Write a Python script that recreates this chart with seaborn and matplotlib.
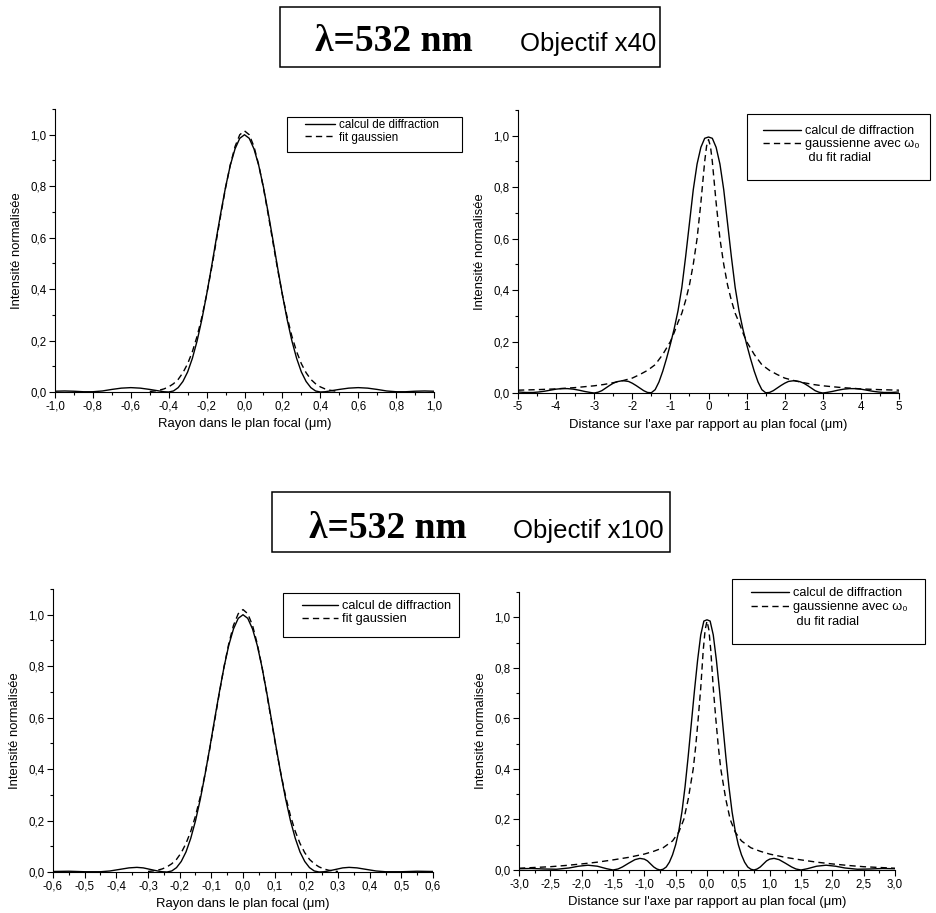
import matplotlib
matplotlib.use('Agg')
import pandas as pd
import seaborn as sns
import matplotlib.pyplot as plt
from matplotlib.lines import Line2D
from matplotlib.patches import Rectangle
from matplotlib.ticker import MultipleLocator, FuncFormatter

# ---- data (intensities normalised) ----
# objective x40, radial profile in the focal plane (um)
r40_x = [-1.0, -0.95, -0.9, -0.85, -0.8, -0.75, -0.7, -0.65, -0.6, -0.55, -0.5, -0.45,
         -0.425, -0.4, -0.375, -0.35, -0.325, -0.3, -0.275, -0.25, -0.225, -0.2, -0.175,
         -0.15, -0.125, -0.1, -0.075, -0.05, -0.025, 0.0, 0.025, 0.05, 0.075, 0.1, 0.125,
         0.15, 0.175, 0.2, 0.225, 0.25, 0.275, 0.3, 0.325, 0.35, 0.375, 0.4, 0.425, 0.45,
         0.5, 0.55, 0.6, 0.65, 0.7, 0.75, 0.8, 0.85, 0.9, 0.95, 1.0]
r40_diff = [0.003, 0.004, 0.003, 0.001, 0.001, 0.004, 0.010, 0.015, 0.017, 0.015, 0.010, 0.004,
            0.001, 0.000, 0.004, 0.017, 0.041, 0.078, 0.131, 0.199, 0.282, 0.378, 0.482,
            0.591, 0.697, 0.796, 0.881, 0.945, 0.986, 1.000, 0.986, 0.945, 0.881, 0.796, 0.697,
            0.591, 0.482, 0.378, 0.282, 0.199, 0.131, 0.078, 0.041, 0.017, 0.004, 0.000, 0.001, 0.004,
            0.010, 0.015, 0.017, 0.015, 0.010, 0.004, 0.001, 0.001, 0.003, 0.004, 0.003]
g40_x = [-0.5, -0.475, -0.45, -0.425, -0.4, -0.375, -0.35, -0.325, -0.3, -0.275, -0.25,
         -0.225, -0.2, -0.175, -0.15, -0.125, -0.1, -0.075, -0.05, -0.025, 0.0, 0.025, 0.05,
         0.075, 0.1, 0.125, 0.15, 0.175, 0.2, 0.225, 0.25, 0.275, 0.3, 0.325, 0.35, 0.375,
         0.4, 0.425, 0.45, 0.475, 0.5]
g40_fit = [0.002, 0.004, 0.007, 0.012, 0.020, 0.032, 0.049, 0.075, 0.110, 0.157, 0.217,
           0.291, 0.378, 0.476, 0.582, 0.690, 0.793, 0.883, 0.954, 1.000, 1.015, 1.000, 0.954,
           0.883, 0.793, 0.690, 0.582, 0.476, 0.378, 0.291, 0.217, 0.157, 0.110, 0.075, 0.049, 0.032,
           0.020, 0.012, 0.007, 0.004, 0.002]

# objective x40, along the optical axis (um)
z40_x = [-5.0, -4.8, -4.6, -4.45, -4.3, -4.15, -4.0, -3.85, -3.7, -3.55, -3.4, -3.25, -3.1,
         -3.0, -2.9, -2.8, -2.7, -2.6, -2.5, -2.4, -2.25, -2.1, -2.0, -1.9, -1.8, -1.7, -1.6,
         -1.5, -1.4, -1.3, -1.2, -1.1, -1.0, -0.9, -0.8, -0.7, -0.6, -0.5, -0.4, -0.3, -0.2,
         -0.1, 0.0, 0.1, 0.2, 0.3, 0.4, 0.5, 0.6, 0.7, 0.8, 0.9, 1.0, 1.1, 1.2, 1.3, 1.4, 1.5,
         1.6, 1.7, 1.8, 1.9, 2.0, 2.1, 2.25, 2.4, 2.5, 2.6, 2.7, 2.8, 2.9, 3.0, 3.1, 3.25, 3.4,
         3.55, 3.7, 3.85, 4.0, 4.15, 4.3, 4.45, 4.6, 4.8, 5.0]
z40_diff = [0.004, 0.002, 0.002, 0.004, 0.007, 0.011, 0.015, 0.017, 0.017, 0.015, 0.011, 0.006, 0.002,
            0.000, 0.003, 0.009, 0.019, 0.029, 0.038, 0.044, 0.048, 0.045, 0.038, 0.029, 0.019, 0.009, 0.002,
            0.001, 0.013, 0.043, 0.085, 0.135, 0.19, 0.25, 0.32, 0.41, 0.53, 0.66, 0.79, 0.89, 0.955,
            0.99, 0.995, 0.99, 0.955, 0.89, 0.79, 0.66, 0.53, 0.41, 0.32, 0.25, 0.19, 0.135, 0.085, 0.043, 0.013, 0.001,
            0.002, 0.009, 0.019, 0.029, 0.038, 0.045, 0.048, 0.044, 0.038, 0.029, 0.019, 0.009, 0.003, 0.000, 0.002, 0.006, 0.011,
            0.015, 0.017, 0.017, 0.015, 0.011, 0.007, 0.004, 0.002, 0.002, 0.004]
zg40_x = [-5.0, -4.5, -4.0, -3.5, -3.0, -2.75, -2.5, -2.25, -2.0, -1.8, -1.6, -1.4, -1.2,
          -1.0, -0.9, -0.8, -0.7, -0.6, -0.5, -0.4, -0.3, -0.2, -0.15, -0.1, -0.05, 0.0,
          0.05, 0.1, 0.15, 0.2, 0.3, 0.4, 0.5, 0.6, 0.7, 0.8, 0.9, 1.0, 1.2, 1.4, 1.6, 1.8,
          2.0, 2.25, 2.5, 2.75, 3.0, 3.5, 4.0, 4.5, 5.0]
zg40_fit = [0.011, 0.013, 0.016, 0.021, 0.028, 0.033, 0.040, 0.048, 0.058, 0.072, 0.088, 0.11, 0.15,
            0.20, 0.235, 0.275, 0.31, 0.36, 0.42, 0.50, 0.60, 0.74, 0.82, 0.90, 0.96, 0.985,
            0.96, 0.90, 0.82, 0.74, 0.60, 0.50, 0.42, 0.36, 0.31, 0.275, 0.235, 0.20, 0.15, 0.11, 0.088, 0.072,
            0.058, 0.048, 0.040, 0.033, 0.028, 0.021, 0.016, 0.013, 0.011]

# objective x100, radial profile
r100_x = [-0.6, -0.55, -0.5, -0.45, -0.42, -0.39, -0.36, -0.335, -0.315, -0.3, -0.285, -0.27,
          -0.255, -0.24, -0.225, -0.21, -0.195, -0.18, -0.165, -0.15, -0.135, -0.12, -0.105,
          -0.09, -0.075, -0.06, -0.045, -0.03, -0.015, 0.0, 0.015, 0.03, 0.045, 0.06, 0.075,
          0.09, 0.105, 0.12, 0.135, 0.15, 0.165, 0.18, 0.195, 0.21, 0.225, 0.24, 0.255, 0.27,
          0.285, 0.3, 0.315, 0.335, 0.36, 0.39, 0.42, 0.45, 0.5, 0.55, 0.6]
r100_diff = [0.002, 0.003, 0.001, 0.001, 0.004, 0.010, 0.016, 0.018, 0.016, 0.012, 0.008, 0.004,
             0.001, 0.000, 0.004, 0.017, 0.041, 0.078, 0.131, 0.199, 0.282, 0.378, 0.482,
             0.591, 0.697, 0.796, 0.881, 0.945, 0.986, 1.000, 0.986, 0.945, 0.881, 0.796, 0.697,
             0.591, 0.482, 0.378, 0.282, 0.199, 0.131, 0.078, 0.041, 0.017, 0.004, 0.000, 0.001, 0.004,
             0.008, 0.012, 0.016, 0.018, 0.016, 0.010, 0.004, 0.001, 0.001, 0.003, 0.002]
g100_x = [-0.3, -0.285, -0.27, -0.255, -0.24, -0.225, -0.21, -0.195, -0.18, -0.165, -0.15,
          -0.135, -0.12, -0.105, -0.09, -0.075, -0.06, -0.045, -0.03, -0.015, 0.0, 0.015, 0.03,
          0.045, 0.06, 0.075, 0.09, 0.105, 0.12, 0.135, 0.15, 0.165, 0.18, 0.195, 0.21, 0.225,
          0.24, 0.255, 0.27, 0.285, 0.3]
g100_fit = [0.002, 0.004, 0.007, 0.012, 0.020, 0.032, 0.049, 0.075, 0.111, 0.158, 0.218,
            0.292, 0.380, 0.478, 0.585, 0.693, 0.797, 0.887, 0.959, 1.004, 1.020, 1.004, 0.959,
            0.887, 0.797, 0.693, 0.585, 0.478, 0.380, 0.292, 0.218, 0.158, 0.111, 0.075, 0.049, 0.032,
            0.020, 0.012, 0.007, 0.004, 0.002]

# objective x100, along the axis
z100_x = [-3.0, -2.8, -2.6, -2.4, -2.2, -2.05, -1.9, -1.75, -1.6, -1.5, -1.42, -1.35, -1.25,
          -1.15, -1.07, -1.0, -0.95, -0.9, -0.85, -0.8, -0.75, -0.7, -0.65, -0.6, -0.55, -0.5,
          -0.45, -0.4, -0.35, -0.3, -0.25, -0.2, -0.15, -0.1, -0.05, 0.0, 0.05, 0.1, 0.15, 0.2,
          0.25, 0.3, 0.35, 0.4, 0.45, 0.5, 0.55, 0.6, 0.65, 0.7, 0.75, 0.8, 0.85, 0.9, 0.95,
          1.0, 1.07, 1.15, 1.25, 1.35, 1.42, 1.5, 1.6, 1.75, 1.9, 2.05, 2.2, 2.4, 2.6, 2.8, 3.0]
z100_diff = [0.005, 0.006, 0.004, 0.003, 0.008, 0.015, 0.019, 0.015, 0.005, 0.0, 0.004, 0.012, 0.027,
             0.041, 0.046, 0.043, 0.036, 0.024, 0.012, 0.004, 0.0, 0.003, 0.012, 0.031, 0.06, 0.10,
             0.155, 0.23, 0.33, 0.45, 0.58, 0.71, 0.83, 0.93, 0.985, 0.99, 0.985, 0.93, 0.83, 0.71,
             0.58, 0.45, 0.33, 0.23, 0.155, 0.10, 0.06, 0.031, 0.012, 0.003, 0.0, 0.004, 0.012, 0.024, 0.036,
             0.043, 0.046, 0.041, 0.027, 0.012, 0.004, 0.0, 0.005, 0.015, 0.019, 0.015, 0.008, 0.003, 0.004, 0.006, 0.005]
zg100_x = [-3.0, -2.75, -2.5, -2.25, -2.0, -1.75, -1.5, -1.25, -1.0, -0.85, -0.7, -0.55, -0.45,
           -0.37, -0.3, -0.22, -0.18, -0.14, -0.1, -0.06, -0.03, 0.0, 0.03, 0.06, 0.1, 0.14,
           0.18, 0.22, 0.3, 0.37, 0.45, 0.55, 0.7, 0.85, 1.0, 1.25, 1.5, 1.75, 2.0, 2.25, 2.5,
           2.75, 3.0]
zg100_fit = [0.007, 0.010, 0.013, 0.018, 0.024, 0.031, 0.04, 0.05, 0.063, 0.074, 0.088, 0.115, 0.15,
             0.20, 0.28, 0.40, 0.49, 0.60, 0.72, 0.87, 0.95, 0.985, 0.95, 0.87, 0.72, 0.60,
             0.49, 0.40, 0.28, 0.20, 0.15, 0.115, 0.088, 0.074, 0.063, 0.05, 0.04, 0.031, 0.024, 0.018, 0.013,
             0.010, 0.007]

lab_diff = 'calcul de diffraction'
lab_fit = 'fit gaussien'
lab_gauss = 'gaussienne avec ω₀'
lab_gauss2 = ' du fit radial'
xlab_r = 'Rayon dans le plan focal (μm)'
xlab_z = "Distance sur l'axe par rapport au plan focal (μm)"
ylab = 'Intensité normalisée'

sns.set_style('ticks')
plt.rcParams['font.family'] = ['Liberation Sans', 'DejaVu Sans']
plt.rcParams['axes.linewidth'] = 0.8
for key in ['text.color', 'axes.labelcolor', 'xtick.color', 'ytick.color', 'axes.edgecolor']:
    plt.rcParams[key] = 'black'

W, H = 936, 913
fig = plt.figure(figsize=(W / 100, H / 100), dpi=100)


def px_axes(l, r, t, b):
    return fig.add_axes([l / W, 1 - b / H, (r - l) / W, (b - t) / H])


def comma(fmt):
    def f(v, pos):
        if abs(v) < 1e-9:
            v = 0.0
        return fmt.format(v).replace('.', ',')
    return FuncFormatter(f)


DASH = (0, (4.5, 3))


def panel(ax, xs, ys, xd, yd, xlim, major, minor, xfmt, xlabel):
    sns.lineplot(x=xs, y=ys, ax=ax, color='black', lw=1.0, estimator=None, sort=False, legend=False)
    sns.lineplot(x=xd, y=yd, ax=ax, color='black', lw=1.0, estimator=None, sort=False, legend=False)
    ax.lines[-1].set_linestyle(DASH)
    ax.set_xlim(*xlim)
    ax.set_ylim(0, 1.1)
    ax.xaxis.set_major_locator(MultipleLocator(major))
    ax.xaxis.set_minor_locator(MultipleLocator(minor))
    ax.yaxis.set_major_locator(MultipleLocator(0.2))
    ax.yaxis.set_minor_locator(MultipleLocator(0.1))
    ax.xaxis.set_major_formatter(comma(xfmt))
    ax.yaxis.set_major_formatter(comma('{:.1f}'))
    ax.tick_params(which='major', direction='out', length=4, width=0.8, pad=2, labelsize=8.3, colors='black')
    ax.tick_params(which='minor', direction='out', length=2.3, width=0.8, colors='black')
    ax.set_xlabel(xlabel, fontsize=9.4, labelpad=4)
    ax.set_ylabel(ylab, fontsize=9.4, labelpad=5)
    sns.despine(ax=ax)
    ax.set_facecolor('white')


def legend_box(ax, box, hx, top, labels, fs, spacing, hlen):
    l, t, r, b = box
    fig.add_artist(Rectangle((l / W, 1 - b / H), (r - l) / W, (b - t) / H, transform=fig.transFigure,
                             fill=False, ec='black', lw=0.8))
    handles = [Line2D([], [], color='black', lw=1.0),
               Line2D([], [], color='black', lw=1.0, ls=DASH)]
    if len(labels) == 3:
        handles.append(Line2D([], [], color='none'))
    leg = ax.legend(handles, labels, loc='upper left', bbox_to_anchor=(hx / W, 1 - top / H),
                    bbox_transform=fig.transFigure, frameon=False, borderpad=0, borderaxespad=0,
                    fontsize=fs, labelspacing=spacing, handlelength=hlen, handletextpad=0.3)
    for txt in leg.get_texts():
        txt.set_color('black')


def title_box(box, lam_x, obj_x, base_y, obj_text):
    l, t, r, b = box
    fig.add_artist(Rectangle((l / W, 1 - b / H), (r - l) / W, (b - t) / H, transform=fig.transFigure,
                             fill=False, ec='black', lw=1.1))
    fig.text(lam_x / W, 1 - base_y / H, 'λ=532 nm', family=['Liberation Serif', 'DejaVu Serif'],
             weight='bold', fontsize=27, va='baseline', color='black')
    fig.text(obj_x / W, 1 - base_y / H, obj_text, fontsize=18.5, va='baseline', color='black')


ax1 = px_axes(55, 434, 109, 392)
panel(ax1, r40_x, r40_diff, g40_x, g40_fit, (-1, 1), 0.2, 0.1, '{:.1f}', xlab_r)
legend_box(ax1, (287, 117, 462, 152), 305, 119, [lab_diff, lab_fit], 8.4, 0.05, 2.6)

ax2 = px_axes(518, 899, 110, 393)
panel(ax2, z40_x, z40_diff, zg40_x, zg40_fit, (-5, 5), 1, 0.5, '{:.0f}', xlab_z)
legend_box(ax2, (747, 114, 930, 180), 763, 125, [lab_diff, lab_gauss, lab_gauss2], 9.2, 0.1, 3.0)

ax3 = px_axes(53, 433, 589, 872)
panel(ax3, r100_x, r100_diff, g100_x, g100_fit, (-0.6, 0.6), 0.1, 0.05, '{:.1f}', xlab_r)
legend_box(ax3, (283, 593, 459, 637), 302, 600, [lab_diff, lab_fit], 9.2, 0.1, 2.8)

ax4 = px_axes(519, 895, 592, 870)
panel(ax4, z100_x, z100_diff, zg100_x, zg100_fit, (-3, 3), 0.5, 0.25, '{:.1f}', xlab_z)
legend_box(ax4, (732, 579, 925, 644), 751, 587, [lab_diff, lab_gauss, lab_gauss2], 9.2, 0.18, 3.0)

title_box((280, 7, 660, 67), 315, 520, 51, 'Objectif x40')
title_box((272, 492, 670, 552), 309, 513, 538, 'Objectif x100')

fig.savefig('out.png', dpi=100, facecolor='white')
